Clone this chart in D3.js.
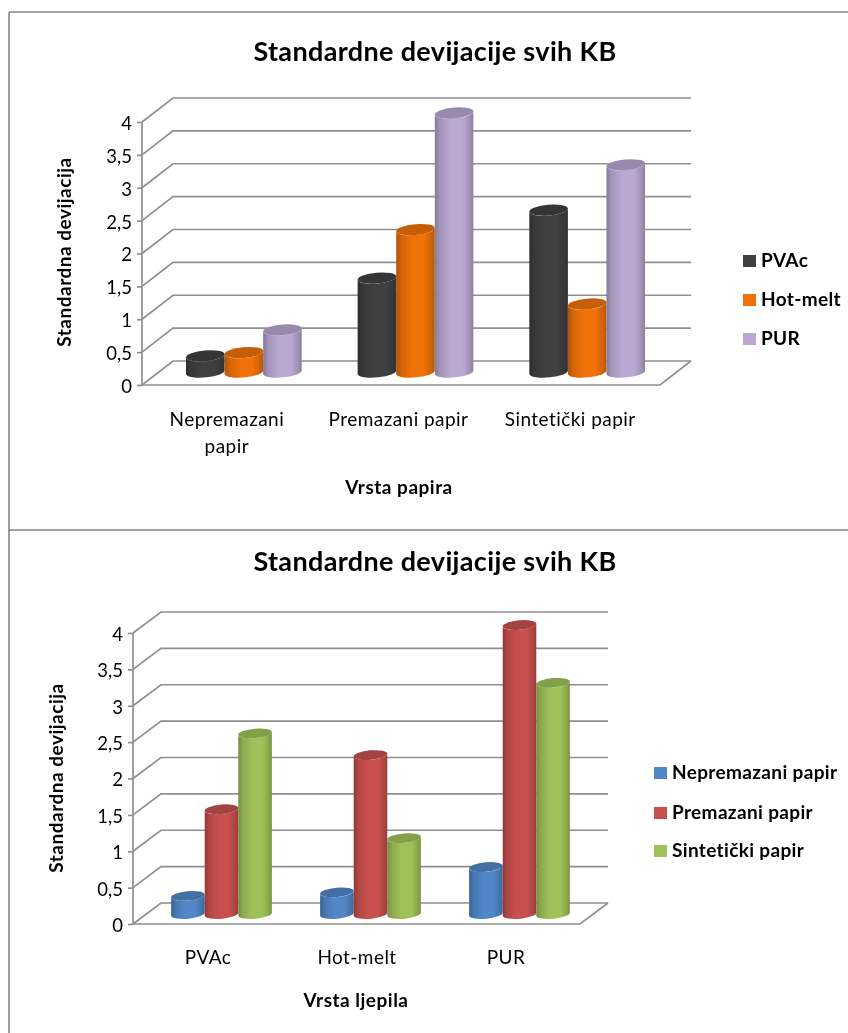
<!DOCTYPE html>
<html><head><meta charset="utf-8">
<script src="https://cdn.jsdelivr.net/npm/d3@7"></script>
<style>html,body{margin:0;padding:0;background:#fff}svg{display:block;filter:blur(0.4px)}text{font-family:Lato,"Open Sans",sans-serif;fill:#000}</style>
</head><body><svg id="c" width="848" height="1033"></svg>
<script>
const title = "Standardne devijacije svih KB";
const yTitle = "Standardna devijacija";
const ticks = [0,0.5,1,1.5,2,2.5,3,3.5,4];

const papers = ["Nepremazani papir","Premazani papir","Sintetički papir"];
const glues = ["PVAc","Hot-melt","PUR"];

const pvacByPaper = [0.25,1.45,2.5];
const hotmeltByPaper = [0.3,2.2,1.05];
const purByPaper = [0.65,4,3.2];

const nepremazaniByGlue = [0.25,0.3,0.65];
const premazaniByGlue = [1.45,2.2,4];
const sintetickiByGlue = [2.5,1.05,3.2];

const svg = d3.select("#c");
const defs = svg.append("defs");
const GRID = "#8f8f8f";

function gradient(id, c){
  const base = d3.color(c);
  const g = defs.append("linearGradient").attr("id",id);
  [[0,base.darker(0.9)],[0.14,base.darker(0.35)],[0.42,base],[0.72,base],[0.92,base.darker(0.45)],[1,base.darker(0.8)]]
    .forEach(([o,col])=>g.append("stop").attr("offset",o).attr("stop-color",col));
}

// frame
[[9,12,848,12],[9,12,9,1033],[9,530,848,530]].forEach(l=>
  svg.append("line").attr("x1",l[0]).attr("y1",l[1]).attr("x2",l[2]).attr("y2",l[3]).attr("stroke","#858585").attr("stroke-width",1.6));

function chart(o){
  const g = svg.append("g");
  const y = d3.scaleLinear().domain([0,4]).range([o.y0,o.y4]);
  const dx = o.backX - o.frontX, dy = o.backDy;
  const fr = o.frontRight;

  // gridlines, walls, floor
  const wall = g.append("g").attr("fill","none").attr("stroke",GRID).attr("stroke-width",1.7);
  ticks.forEach(t=>{
    const yy = y(t);
    wall.append("path").attr("d",`M${o.frontX},${yy}L${o.backX},${yy-dy}L${o.backX+fr-o.frontX},${yy-dy}`);
  });
  wall.append("path").attr("d",`M${o.frontX},${o.y0}H${fr}L${fr+dx},${o.y0-dy}`);

  // y axis
  const axis = g.append("g").attr("transform",`translate(${o.frontX},0)`)
    .call(d3.axisLeft(y).tickValues(ticks).tickSize(5).tickPadding(5)
      .tickFormat(d=>String(d).replace(".",",")));
  axis.selectAll("path,line").attr("stroke",GRID).attr("stroke-width",1.7);
  axis.select(".domain").attr("d",`M0,${o.y4}V${o.y0}`);
  axis.selectAll("text").style("font-family",'Lato,sans-serif').style("font-size","18.5px").attr("fill","#000")
    .attr("transform","translate(0,1.5)");

  // bars
  const x0 = d3.scaleBand().domain(o.cats).range(o.xRange).paddingInner(o.pad).paddingOuter(o.pad/2);
  const x1 = d3.scaleBand().domain(o.series.map(s=>s.name)).range([0,x0.bandwidth()]);
  const hy = d3.scaleLinear().domain([0,4]).range([o.barBase,o.barTop]);
  o.series.forEach((s,i)=>gradient(o.id+"g"+i,s.color));
  o.cats.forEach((cat,ci)=>{
    o.series.forEach((s,si)=>{
      const w = x1.bandwidth(), l = x0(cat)+x1(s.name), r = l+w;
      const t = w*0.05, rx = w/2, ry = w*0.14;
      const yt = hy(s.values[ci]), yb = o.barBase;
      g.append("path").attr("fill",`url(#${o.id}g${si})`)
        .attr("d",`M${l},${yt+t}L${l},${yb+t}A${rx},${ry} -5 0 0 ${r},${yb-t}L${r},${yt-t}A${rx},${ry} -5 0 1 ${l},${yt+t}Z`);
      g.append("ellipse").attr("transform",`translate(${(l+r)/2},${yt}) rotate(-5)`)
        .attr("rx",rx*1.003).attr("ry",ry).attr("fill",d3.color(s.color).darker(0.55));
    });
  });

  // category labels
  o.cats.forEach((cat,ci)=>{
    const cx = x0(cat)+x0.bandwidth()/2+o.catShift;
    const t = g.append("text").attr("text-anchor","middle").attr("font-size",19).attr("letter-spacing",0.45)
      .attr("x",cx).attr("y",o.catY);
    (o.catLines[ci]).forEach((ln,li)=>t.append("tspan").attr("x",cx).attr("dy",li?27:0).text(ln));
  });

  // titles
  g.append("text").attr("x",435).attr("y",o.titleY).attr("text-anchor","middle")
    .attr("font-size",27).attr("letter-spacing",0.35).attr("font-weight",700).text(title);
  g.append("text").attr("x",o.xTitle[0]).attr("y",o.xTitle[1]).attr("text-anchor","middle")
    .attr("font-size",19).attr("letter-spacing",0.5).attr("font-weight",700).text(o.xLabel);
  g.append("text").attr("transform",`translate(${o.yT[0]},${o.yT[1]}) rotate(-90)`).attr("text-anchor","middle")
    .attr("font-size",19).attr("letter-spacing",0.5).attr("font-weight",700).text(yTitle);

  // legend
  o.series.forEach((s,i)=>{
    const ly = o.legY[i];
    g.append("rect").attr("x",o.legX).attr("y",ly-6).attr("width",13).attr("height",12).attr("fill",s.color);
    g.append("text").attr("x",o.legX+o.legGap).attr("y",ly+6).attr("font-size",19)
      .attr("letter-spacing",0.35).attr("font-weight",700).text(s.name);
  });
}

chart({
  id:"a", cats:papers, catLines:[["Nepremazani","papir"],["Premazani papir"],["Sintetički papir"]],
  series:[{name:glues[0],values:pvacByPaper,color:"#404040"},
          {name:glues[1],values:hotmeltByPaper,color:"#f07208"},
          {name:glues[2],values:purByPaper,color:"#baa8d2"}],
  frontX:142, backX:173, backDy:24, frontRight:660, y0:385, y4:122,
  xRange:[158,673], pad:0.326, barBase:372, barTop:113, catY:426, catShift:-17, titleY:61,
  xLabel:"Vrsta papira", xTitle:[399,494], yT:[71,252],
  legX:743, legGap:18, legY:[261,300,339]
});
chart({
  id:"b", cats:glues, catLines:[[glues[0]],[glues[1]],[glues[2]]],
  series:[{name:papers[0],values:nepremazaniByGlue,color:"#5187c8"},
          {name:papers[1],values:premazaniByGlue,color:"#c8504e"},
          {name:papers[2],values:sintetickiByGlue,color:"#9fc258"}],
  frontX:133, backX:161, backDy:21, frontRight:580, y0:924, y4:633,
  xRange:[147,594], pad:0.324, barBase:914, barTop:625, catY:964, catShift:-13.5, titleY:571,
  xLabel:"Vrsta ljepila", xTitle:[356,1007], yT:[63,778],
  legX:654, legGap:18, legY:[773,813,851]
});
</script></body></html>
